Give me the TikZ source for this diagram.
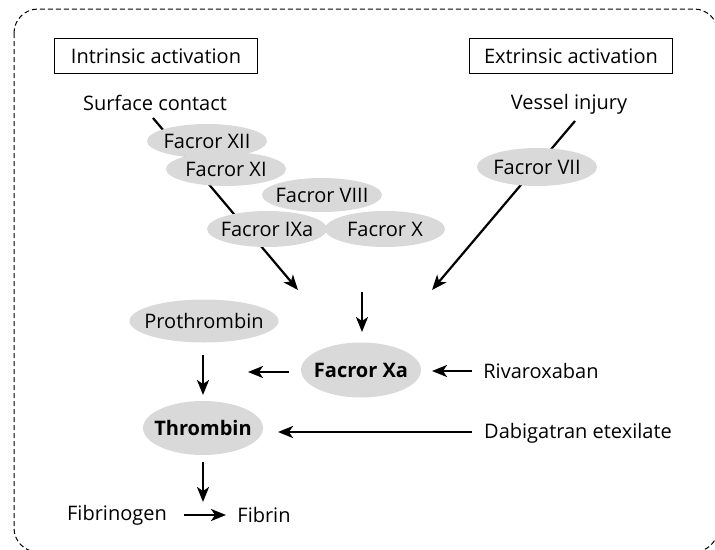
\documentclass[tikz,border=0pt]{standalone}
\usepackage{fontspec}
\setmainfont{Open Sans}
\usetikzlibrary{shapes.geometric,arrows.meta,backgrounds}

\begin{document}
\begin{tikzpicture}[x=1pt,y=-1pt,
  every node/.style={font=\fontsize{20}{23}\selectfont},
  factor/.style={ellipse, fill=gray!30, inner xsep=-30pt, inner ysep=-6pt, minimum width=120pt, minimum height=34pt},
  headbox/.style={draw, line width=1pt, minimum width=203pt, minimum height=35pt},
  arr/.style={line width=2.2pt, -{Stealth[length=15pt,width=12pt,inset=4pt]}}]
\clip (0,0) rectangle (715,549);

% Frame
\draw[line width=1pt, dash pattern=on 5pt off 3pt, rounded corners=24pt] (14,9) rectangle (718,552);

% Headings
\node[headbox] (intr) at (156,56) {Intrinsic activation};
\node[headbox] (extr) at (571,56) {Extrinsic activation};

\node (surf) at (155,103) {Surface contact};
\node (vess) at (569,104) {Vessel injury};

% Factors
\node[factor] (fXII) at (207,141) {Facror XII};
\node[factor] (fXI) at (226,169) {Facror XI};
\node[factor] (fVIII) at (322,195) {Facror VIII};
\node[factor, minimum height=36pt] (fIXa) at (267,229) {Facror IXa};
\node[factor, minimum height=36pt] (fX) at (385,229) {Facror X};
\node[factor, minimum height=38pt] (fVII) at (537,167) {Facror VII};

\node[factor, minimum height=55pt, font=\fontsize{20}{23}\selectfont\bfseries] (fXa) at (361,370) {Facror Xa};
\node[factor, minimum width=149pt, minimum height=43pt] (prot) at (204,321) {Prothrombin};
\node[factor, minimum height=54pt, font=\fontsize{20}{23}\selectfont\bfseries] (thromb) at (203,428) {Thrombin};

% Drugs
\node (riva) at (541,371) {Rivaroxaban};
\node (dabi) at (578,433) {Dabigatran etexilate};

\node (fibg) at (117,515) {Fibrinogen};
\node (fibr) at (264,515) {Fibrin};

% Free ends
\coordinate (intrA) at (153,118);
\coordinate (intrB) at (298,290);
\coordinate (extrA) at (575,121);
\coordinate (extrB) at (432,290);
\coordinate (xaIn) at (362,292);
\coordinate (xaTop) at (362,332);
\coordinate (xaOutA) at (289,372);
\coordinate (xaOutB) at (248,372);
\coordinate (rivaA) at (472,371);
\coordinate (rivaB) at (432,371);
\coordinate (protA) at (203,355);
\coordinate (protB) at (203,395);
\coordinate (dabiA) at (472,432);
\coordinate (dabiB) at (278,432);
\coordinate (thrA) at (203,462);
\coordinate (thrB) at (203,502);
\coordinate (fibA) at (184,515);
\coordinate (fibB) at (226,515);

% Pathway lines behind ellipses
\begin{scope}[on background layer]
\draw[arr] (intrA) -- (intrB);
\draw[arr] (extrA) -- (extrB);
\end{scope}

\draw[arr] (xaIn) -- (xaTop);
\draw[arr] (xaOutA) -- (xaOutB);
\draw[arr] (rivaA) -- (rivaB);
\draw[arr] (protA) -- (protB);
\draw[arr] (dabiA) -- (dabiB);
\draw[arr] (thrA) -- (thrB);
\draw[arr] (fibA) -- (fibB);

\end{tikzpicture}
\end{document}
